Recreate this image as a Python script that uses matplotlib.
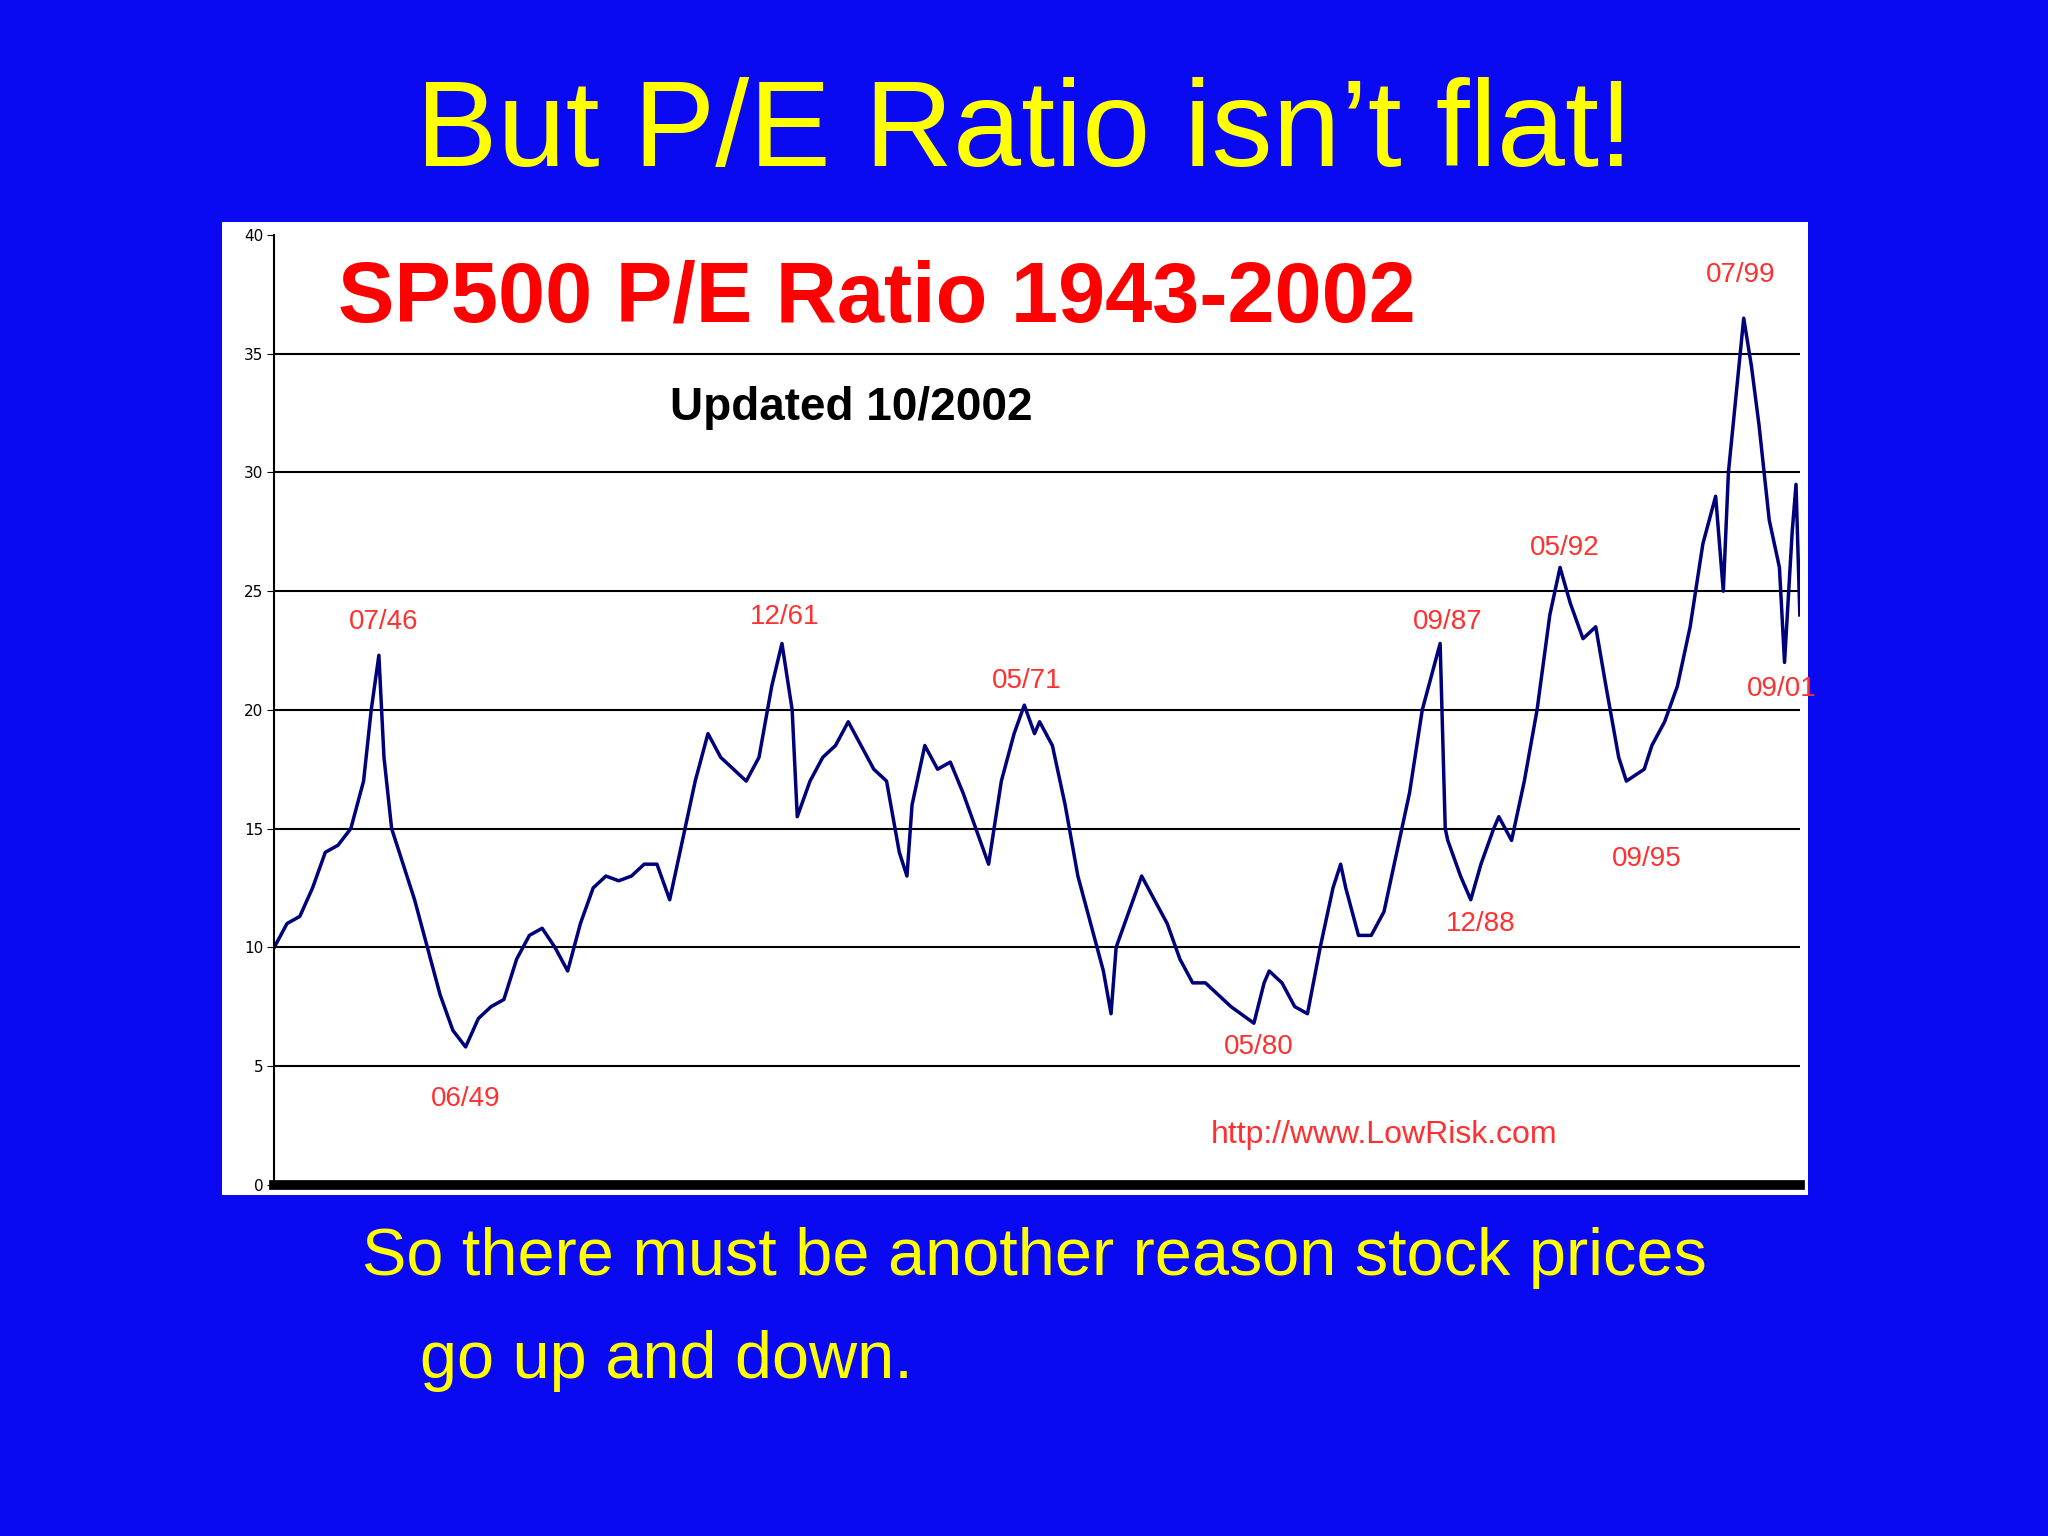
import matplotlib
matplotlib.use("Agg")
import matplotlib.pyplot as plt
from matplotlib.patches import Rectangle

years = [1943.0,1943.5,1944,1944.5,1945,1945.5,1946,1946.5,1946.8,1947.1,1947.3,1947.6,
         1948.5,1949,1949.5,1950,1950.5,1951,1951.5,1952,1952.5,1953,1953.5,1954,1954.5,1955,1955.5,1956,1956.5,1957,1957.5,1958,1958.5,1959,1959.5,1960,1960.5,1961,1961.5,1962,1962.5,1962.9,1963.3,1963.5,1964,1964.5,1965,1965.5,1966,1966.5,1967,1967.5,1967.8,1968,1968.5,1969,1969.5,1970,1970.5,1971,1971.5,1972,1972.4,1972.8,1973,1973.5,1974,1974.5,1975,1975.5,1975.8,1976,1976.5,1977,1977.5,1978,1978.5,1979,1979.5,1980,1980.5,1981.4,1981.8,1982,1982.5,1983,1983.5,1984,1984.5,1984.8,1985,1985.5,1986,1986.5,1987,1987.5,1988,1988.7,1988.9,1989,1989.5,1989.9,1990.3,1990.8,1991,1991.5,1992,1992.5,1993,1993.4,1993.8,1994.3,1994.8,1995.2,1995.7,1996,1996.7,1997,1997.5,1998,1998.5,1999,1999.5,1999.8,2000.0,2000.6,2000.9,2001.2,2001.6,2002.0,2002.2,2002.5,2002.65,2002.8]
pe = [10,11,11.3,12.5,14,14.3,15,17,20,22.3,18,15,
      12,10,8,6.5,5.8,7,7.5,7.8,9.5,10.5,10.8,10,9,11,12.5,13,12.8,13,13.5,13.5,12,14.5,17,19,18,17.5,17,18,21,22.8,20,15.5,17,18,18.5,19.5,18.5,17.5,17,14,13,16,18.5,17.5,17.8,16.5,15,13.5,17,19,20.2,19,19.5,18.5,16,13,11,9,7.2,10,11.5,13,12,11,9.5,8.5,8.5,8,7.5,6.8,8.5,9,8.5,7.5,7.2,10,12.5,13.5,12.5,10.5,10.5,11.5,14,16.5,20,22.8,15,14.5,13,12,13.5,15,15.5,14.5,17,20,24,26,24.5,23,23.5,21,18,17,17.5,18.5,19.5,21,23.5,27,29,25,30,36.5,34.5,32,28,26,22,27.5,29.5,24]

ann_labels = ["07/46","06/49","12/61","05/71","05/80","09/87","12/88","05/92","09/95","07/99","09/01"]
ann_x = [1947.3,1950.5,1963.0,1972.5,1981.6,1989.0,1990.3,1993.6,1996.8,2000.5,2002.1]
ann_y = [23.7,3.6,23.9,21.2,5.8,23.7,11.0,26.8,13.7,38.3,20.9]

bg = "#0A0AF2"
fig = plt.figure(figsize=(20.48, 15.36), dpi=100, facecolor=bg)
fig.text(0.5, 0.913, "But P/E Ratio isn\u2019t flat!", color="#FFFF00", fontsize=88,
         ha="center", va="center", family="Liberation Sans")
fig.patches.append(Rectangle((170/1568, 1-915/1176), (1384-170)/1568, (915-170)/1176,
                             transform=fig.transFigure, facecolor="white", edgecolor="none",
                             zorder=-5))
ax = fig.add_axes([210/1568, 1-907/1176, (1378-210)/1568, (907-180)/1176])
ax.set_zorder(2)
ax.set_facecolor("white")
ax.plot(years, pe, color="#00007A", lw=2.5)
ax.set_xlim(1943, 2002.8)
ax.set_ylim(0, 40)
ax.set_yticks(range(0, 41, 5))
ax.tick_params(axis="y", labelsize=11, length=5, pad=3)
ax.set_xticks([])
for v in range(5, 40, 5):
    ax.axhline(v, color="black", lw=1.5, zorder=0)
ax.axhline(0, color="black", lw=7, zorder=3, clip_on=False)
for s in ["top", "right", "bottom"]:
    ax.spines[s].set_visible(False)
ax.spines["left"].set_linewidth(1.5)
for l, x, y in zip(ann_labels, ann_x, ann_y):
    ax.text(x, y, l, color="#FF3030", fontsize=20, ha="center", va="center",
            family="Liberation Sans")
ax.text(1945.5, 37.3, "SP500 P/E Ratio 1943-2002", color="#FF0000", fontsize=61,
        fontweight="bold", ha="left", va="center", family="Liberation Sans")
ax.text(1958.5, 32.7, "Updated 10/2002", color="black", fontsize=33,
        fontweight="bold", ha="left", va="center", family="Liberation Sans")
ax.text(1986.5, 2.1, "http://www.LowRisk.com", color="#FF3030", fontsize=23,
        ha="center", va="center", family="Liberation Sans")
fig.text(0.177, 0.181, "So there must be another reason stock prices", color="#FFFF00",
         fontsize=48, ha="left", va="center", family="Liberation Sans")
fig.text(0.205, 0.114, "go up and down.", color="#FFFF00",
         fontsize=48, ha="left", va="center", family="Liberation Sans")
fig.savefig("out.png", dpi=100, facecolor=bg)
